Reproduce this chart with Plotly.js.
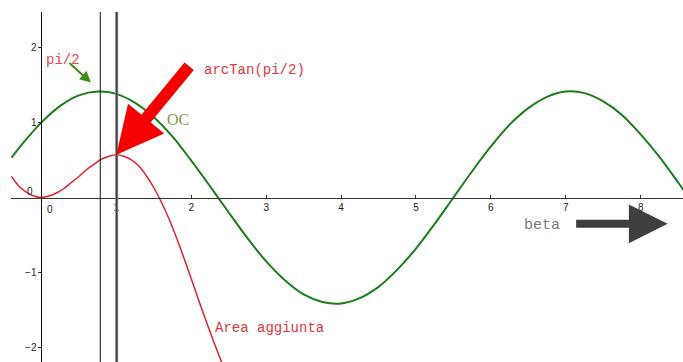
<!DOCTYPE html>
<html>
<head>
<meta charset="utf-8">
<script src="https://cdn.plot.ly/plotly-3.0.1.min.js"></script>
<style>
  html, body { margin: 0; padding: 0; background: #fff; }
  #plot { width: 683px; height: 362px; }
</style>
</head>
<body>
<div id="plot"></div>
<script>
// OC as a function of beta (green curve)
const betaGreen = [-0.4, -0.25, 0, 0.25, 0.5, 0.75, 1.0, 1.25, 1.5, 1.75, 2.0, 2.25, 2.5, 2.75,
  3.0, 3.25, 3.5, 3.75, 4.0, 4.25, 4.5, 4.75, 5.0, 5.25, 5.5, 5.75, 6.0, 6.25, 6.5, 6.75,
  7.0, 7.25, 7.5, 7.75, 8.0, 8.25, 8.5, 8.6];
const ocValues = [0.53, 0.72, 1.00, 1.22, 1.36, 1.41, 1.38, 1.26, 1.07, 0.81, 0.49, 0.15, -0.20, -0.54,
  -0.85, -1.10, -1.29, -1.39, -1.41, -1.34, -1.19, -0.96, -0.68, -0.35, 0.00, 0.35, 0.68, 0.97, 1.19, 1.34,
  1.41, 1.39, 1.28, 1.10, 0.84, 0.54, 0.20, 0.06];

// added area as a function of beta (red curve)
const betaRed = [-0.4, -0.3, -0.2, -0.1, 0, 0.1, 0.2, 0.3, 0.4, 0.5, 0.6, 0.7, 0.8, 0.9, 1.0,
  1.1, 1.2, 1.3, 1.4, 1.5, 1.6, 1.7, 1.8, 1.9, 2.0, 2.1, 2.2, 2.3, 2.4, 2.5];
const areaValues = [0.28, 0.15, 0.07, 0.02, 0.00, 0.02, 0.06, 0.12, 0.20, 0.28, 0.37, 0.44, 0.51, 0.55, 0.57,
  0.55, 0.50, 0.42, 0.29, 0.13, -0.06, -0.28, -0.53, -0.80, -1.08, -1.37, -1.65, -1.92, -2.18, -2.42];

// vertical guides: pi/4 and arcTan(pi/2)
const guideLines = [0.785, 1.004];
const peakIndex = 14; // beta = 1.0, top of the area curve

const xTicks = [1, 2, 3, 4, 5, 6, 7, 8];
const yTicks = [-2, -1, 1, 2];
const xRange = [-0.407, 8.565];
const yRange = [-2.19, 2.47];

const tickFont = { family: 'Liberation Sans, Arial, sans-serif', size: 10, color: '#222' };
const noteFont = { family: 'Liberation Mono, DejaVu Sans Mono, monospace', size: 14 };

const traces = [
  {
    x: betaGreen, y: ocValues, type: 'scatter', mode: 'lines',
    line: { color: '#1b7d1b', width: 2, shape: 'spline', smoothing: 1 },
    hoverinfo: 'skip'
  },
  {
    x: betaRed, y: areaValues, type: 'scatter', mode: 'lines',
    line: { color: '#de2330', width: 1.5, shape: 'spline', smoothing: 1 },
    hoverinfo: 'skip'
  }
];

// where the axes cross (origin) in paper fractions
const xAxisPos = (0 - yRange[0]) / (yRange[1] - yRange[0]);
const yAxisPos = (0 - xRange[0]) / (xRange[1] - xRange[0]);

const layout = {
  width: 683, height: 362,
  margin: { l: 11, r: 0, t: 12, b: 0 },
  paper_bgcolor: '#fff', plot_bgcolor: '#fff',
  showlegend: false,
  xaxis: {
    range: xRange, anchor: 'free', position: xAxisPos,
    showline: true, linecolor: '#333', linewidth: 1.5,
    showgrid: false, zeroline: false,
    tickmode: 'array', tickvals: xTicks,
    ticks: 'inside', ticklen: 3, tickcolor: '#333', tickfont: tickFont,
    fixedrange: true
  },
  yaxis: {
    range: yRange, anchor: 'free', position: yAxisPos,
    showline: true, linecolor: '#111', linewidth: 1,
    showgrid: false, zeroline: false,
    tickmode: 'array', tickvals: yTicks,
    ticks: 'outside', ticklen: 3, tickcolor: '#333', tickfont: tickFont,
    fixedrange: true
  },
  shapes: [
    { type: 'line', xref: 'x', yref: 'paper', x0: guideLines[0], x1: guideLines[0], y0: 0, y1: 1,
      line: { color: '#111', width: 1 } },
    { type: 'line', xref: 'x', yref: 'paper', x0: guideLines[1], x1: guideLines[1], y0: 0, y1: 1,
      line: { color: '#808080', width: 3 } },
    { type: 'line', xref: 'x', yref: 'paper', x0: guideLines[1], x1: guideLines[1], y0: 0, y1: 1,
      line: { color: '#333', width: 1 } }
  ],
  annotations: [
    // origin labels
    { x: 0, y: 0, xref: 'x', yref: 'y', text: '0', showarrow: false,
      xanchor: 'left', yanchor: 'top', xshift: 4, yshift: -4, font: tickFont },
    { x: 0, y: 0, xref: 'x', yref: 'y', text: '0', showarrow: false,
      xanchor: 'right', yanchor: 'bottom', xshift: -6, yshift: -1, font: tickFont },

    // pointer to the peak of the area curve
    { x: betaRed[peakIndex], y: areaValues[peakIndex], xref: 'x', yref: 'y', text: '',
      showarrow: true, arrowhead: 2, arrowwidth: 12, arrowsize: 0.78, arrowcolor: '#f40000',
      ax: 74, ay: -90, standoff: 0 },
    // small green pointer
    { x: 0.66, y: 1.53, xref: 'x', yref: 'y', text: '',
      showarrow: true, arrowhead: 2, arrowwidth: 2, arrowsize: 1.1, arrowcolor: '#3e8a12',
      ax: -23, ay: -21, standoff: 0 },
    // beta direction arrow
    { x: 8.36, y: -0.35, xref: 'x', yref: 'y', text: '',
      showarrow: true, arrowhead: 2, arrowwidth: 8, arrowsize: 0.97, arrowcolor: '#3f3f3f',
      ax: -93, ay: 0, standoff: 0 },

    // labels
    { x: 0.293, y: 1.83, xref: 'x', yref: 'y', text: 'pi/2', showarrow: false,
      font: Object.assign({}, noteFont, { color: '#e24a52' }) },
    { x: 2.844, y: 1.693, xref: 'x', yref: 'y', text: 'arcTan(pi/2)', showarrow: false,
      font: Object.assign({}, noteFont, { color: '#e0363f' }) },
    { x: 1.82, y: 1.036, xref: 'x', yref: 'y', text: 'OC', showarrow: false,
      font: { family: 'Liberation Serif, DejaVu Serif, serif', size: 16, color: '#7f9a45' } },
    { x: 6.68, y: -0.377, xref: 'x', yref: 'y', text: 'beta', showarrow: false,
      font: Object.assign({}, noteFont, { color: '#7a7a7a', size: 15 }) },
    { x: 3.05, y: -1.733, xref: 'x', yref: 'y', text: 'Area aggiunta', showarrow: false,
      font: Object.assign({}, noteFont, { color: '#e0363f' }) }
  ]
};

Plotly.newPlot('plot', traces, layout, { displayModeBar: false, staticPlot: true });
</script>
</body>
</html>
